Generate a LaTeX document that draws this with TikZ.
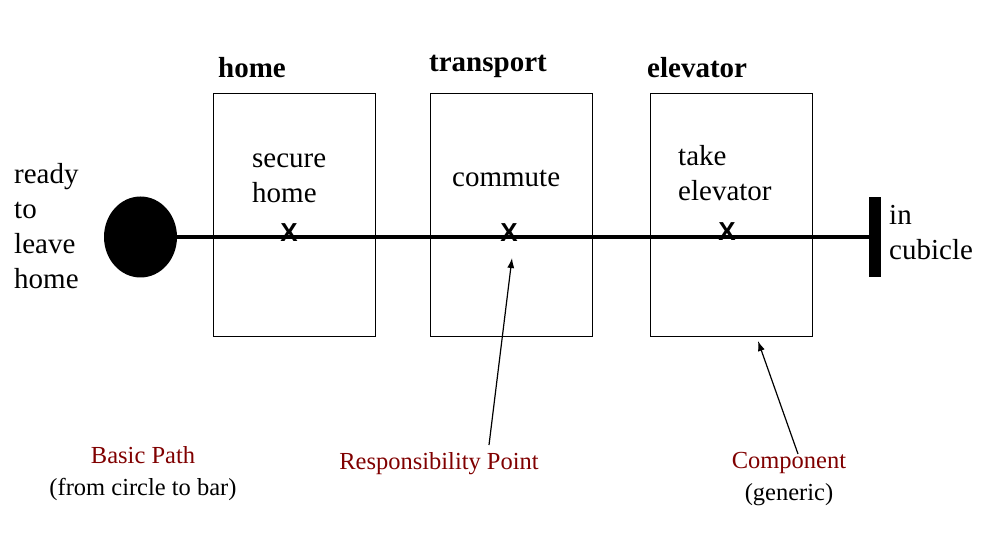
\documentclass[tikz,border=0pt]{standalone}
\usepackage{fontspec}
\setmainfont{Liberation Serif}
\setsansfont{Liberation Sans}
\usetikzlibrary{shapes.geometric,arrows.meta}
\definecolor{notered}{RGB}{128,0,0}
\tikzset{
  comp/.style={draw,line width=1pt,minimum width=162pt,minimum height=243pt,inner sep=0pt},
  ctitle/.style={anchor=base west,inner sep=0pt,font=\fontsize{29}{35}\selectfont\bfseries},
  lbl/.style={anchor=base west,inner sep=0pt,align=left,font=\fontsize{29}{35}\selectfont},
  rpoint/.style={inner sep=0pt,font=\sffamily\bfseries\fontsize{26}{26}\selectfont},
  note/.style={anchor=base,inner sep=0pt,align=center,font=\fontsize{24.5}{32}\selectfont},
  pointer/.style={line width=1.2pt,-{Latex[length=10pt,width=7pt]}}
}
\begin{document}
\begin{tikzpicture}[x=1pt,y=-1pt]
\useasboundingbox (0,0) rectangle (998,534);
% components
\node[comp] (home) at (294,215.5) {};
\node[comp] (transport) at (511.5,215.5) {};
\node[comp] (elevator) at (731,215.5) {};
\node[ctitle] (thome) at (218,78) {home};
\node[ctitle] (ttransport) at (429,72) {transport};
\node[ctitle] (televator) at (647,78) {elevator};
% start, path and end
\node[ellipse,fill=black,minimum width=73pt,minimum height=81pt,inner sep=0pt] (start) at (140.5,237) {};
\node[fill=black,minimum width=12pt,minimum height=80pt,inner sep=0pt] (stop) at (875,237) {};
\draw[line width=4pt] (start.east) -- (stop.west);
\node[lbl] (lstart) at (14,289) {ready\\to\\leave\\home};
\node[lbl] (lstop) at (889,260) {in\\cubicle};
% responsibilities
\node[rpoint] (xhome) at (289,233) {X};
\node[rpoint] (xtransport) at (509,233) {X};
\node[rpoint] (xelevator) at (727,232) {X};
\node[lbl] (rhome) at (252,203) {secure\\home};
\node[lbl] (rtransport) at (452,187) {commute};
\node[lbl] (relevator) at (678,201) {take\\elevator};
% notes
\node[note] (npath) at (143,495) {\textcolor{notered}{Basic Path}\\(from circle to bar)};
\node[note,text=notered] (nresp) at (439,469) {Responsibility Point};
\node[note] (ncomp) at (789,500) {\textcolor{notered}{Component}\\(generic)};
\coordinate (rptail) at (489,445);
\coordinate (rptip) at (512,258);
\coordinate (cptail) at (798,454);
\coordinate (cptip) at (758,341);
\draw[pointer] (rptail) -- (rptip);
\draw[pointer] (cptail) -- (cptip);
\end{tikzpicture}
\end{document}
